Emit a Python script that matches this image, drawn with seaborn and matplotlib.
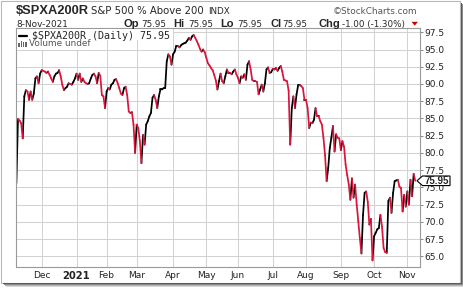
import numpy as np
import pandas as pd
import matplotlib
matplotlib.use("Agg")
import matplotlib.pyplot as plt
import matplotlib.transforms as mtransforms
from matplotlib.patches import Rectangle, Polygon
from matplotlib.lines import Line2D
import seaborn as sns

# ---------------- data ----------------
values = [
    75.6, 84.9, 84.7, 84.3, 82.1, 88.2, 89.1, 88.9, 87.7, 88.9,
    87.7, 88.6, 90.8, 91.1, 90.1, 91.5, 92.0, 91.9, 91.8, 91.6,
    91.8, 91.3, 90.8, 90.3, 91.1, 91.5, 91.6, 92.0, 91.1, 89.9,
    89.1, 89.4, 89.6, 90.1, 90.0, 89.9, 90.3, 90.8, 91.5, 90.6,
    91.5, 90.3, 90.8, 90.3, 90.1, 90.0, 90.1, 90.8, 91.3, 91.5,
    91.1, 90.1, 91.6, 91.2, 88.4, 88.2, 86.5, 88.9, 89.4, 89.2,
    89.9, 90.1, 90.6, 90.7, 90.1, 89.4, 88.6, 88.4, 89.4, 89.6,
    88.4, 86.0, 85.8, 85.9, 84.1, 80.0, 84.1, 83.6, 81.7, 78.5,
    82.6, 81.2, 84.1, 84.6, 85.3, 85.8, 88.0, 88.4, 87.7, 86.5,
    88.2, 89.2, 89.2, 89.4, 89.4, 93.3, 94.3, 94.0, 92.8, 94.3,
    94.7, 95.5, 95.5, 95.3, 95.6, 95.8, 95.9, 96.0, 96.3, 96.7,
    96.4, 96.9, 97.1, 96.7, 96.2, 95.7, 95.1, 94.7, 95.0, 94.6,
    93.8, 93.0, 92.7, 92.3, 92.0, 91.3, 90.5, 89.2, 90.4, 91.5,
    90.4, 90.1, 91.1, 92.1, 91.6, 91.6, 91.4, 91.8, 92.1, 91.4,
    90.9, 90.1, 91.1, 90.9, 91.4, 90.6, 92.8, 93.3, 92.1, 90.6,
    90.4, 90.4, 90.3, 88.5, 89.2, 89.9, 88.9, 90.1, 92.1, 92.4,
    91.6, 91.7, 92.2, 92.1, 92.3, 91.9, 92.3, 92.6, 91.8, 90.6,
    90.5, 90.4, 89.0, 81.2, 86.5, 88.2, 86.5, 88.5, 89.8, 89.8,
    89.7, 89.4, 87.7, 87.7, 86.5, 83.6, 84.4, 84.3, 84.8, 86.5,
    85.3, 85.3, 84.6, 84.1, 82.2, 79.7, 75.9, 77.8, 80.7, 82.2,
    83.9, 80.2, 82.7, 82.2, 82.1, 80.4, 81.7, 80.9, 78.3, 76.8,
    75.4, 73.2, 76.3, 73.5, 75.4, 72.5, 70.1, 67.6, 65.4, 71.0,
    74.2, 74.4, 72.9, 69.6, 70.4, 64.4, 67.9, 68.4, 68.9, 69.1,
    71.0, 69.3, 66.2, 65.6, 65.5, 73.0, 73.5, 71.3, 74.2, 75.9,
    76.0, 76.1, 75.1, 74.9, 71.5, 73.9, 72.2, 74.4, 72.5, 76.1,
    73.7, 76.95, 75.95,
]
start_date = "2020-11-06"
end_date = "2021-11-08"
holidays = ["2020-11-26", "2020-12-25", "2021-01-01", "2021-01-18",
            "2021-02-15", "2021-04-02", "2021-05-31", "2021-07-05",
            "2021-09-06"]
month_labels = ["Dec", "2021", "Feb", "Mar", "Apr", "May", "Jun", "Jul",
                "Aug", "Sep", "Oct", "Nov"]
y_ticks = [65.0, 67.5, 70.0, 72.5, 75.0, 77.5, 80.0, 82.5, 85.0, 87.5,
           90.0, 92.5, 95.0, 97.5]
symbol = "$SPXA200R"
name = "S&P 500 % Above 200"
exchange = "INDX"
date_text = "8-Nov-2021"
last_value = 75.95
change = -1.00
change_pct = -1.30

# ---------------- prep ----------------
dates = pd.bdate_range(start_date, end_date, freq="C", holidays=holidays)
n = len(values)
dates = dates[:n]
idx = np.arange(n)
tick_pos = [i for i in range(1, len(dates)) if dates[i].month != dates[i - 1].month]

rows = []
for k in range(1, n):
    d = "up" if values[k] >= values[k - 1] else "down"
    rows.append((k, idx[k - 1], values[k - 1], d))
    rows.append((k, idx[k], values[k], d))
seg = pd.DataFrame(rows, columns=["seg", "x", "y", "dir"])

sns.set_style("white")
plt.rcParams["font.family"] = ["DejaVu Sans"]

W, H = 464, 288
fig = plt.figure(figsize=(W / 100, H / 100), dpi=100)
fig.patch.set_facecolor("white")
ax = fig.add_axes([16 / W, 1 - 267 / H, (420 - 16) / W, (267 - 28) / H])
ax.set_facecolor("white")

sns.lineplot(data=seg, x="x", y="y", hue="dir", units="seg", estimator=None,
             palette={"up": "#000000", "down": "#dc143c"}, legend=False,
             sort=False, linewidth=1.25, ax=ax)

ax.set_xlim(-0.25, 255.0)
ax.set_ylim(63.44, 98.12)
ax.set_xlabel("")
ax.set_ylabel("")
ax.set_xticks(tick_pos[:len(month_labels)])
ax.set_xticklabels(month_labels)
ax.set_yticks(y_ticks)
ax.set_yticklabels([f"{v:.1f}" for v in y_ticks])
ax.yaxis.tick_right()
ax.tick_params(axis="x", length=0, pad=3.2, labelsize=6.5, labelcolor="#222222")
ax.tick_params(axis="y", right=True, left=False, length=2.2, width=0.7, pad=0.6,
               labelsize=6.5, color="#888888", labelcolor="#222222")
for lab in ax.get_xticklabels():
    if lab.get_text() == "2021":
        lab.set_fontweight("bold")
        lab.set_fontsize(7.2)
ax.grid(True, color="#d2d2d2", linewidth=0.75)
ax.set_axisbelow(True)
for sp in ax.spines.values():
    sp.set_color("#9a9a9a")
    sp.set_linewidth(0.8)

# ---------------- decorations in pixel space ----------------
px = mtransforms.Affine2D().scale(1 / W, -1 / H).translate(0, 1) + fig.transFigure
renderer = fig.canvas.get_renderer()


def fit(x, y, s, width, size=8, **kw):
    t = fig.text(x, y, s, transform=px, fontsize=size, parse_math=False, **kw)
    w = t.get_window_extent(renderer).width
    t.set_fontsize(size * width / w)
    return t


# header
fit(16, 14, symbol, 73, family="Liberation Sans", weight="bold")
fit(90.7, 13.7, name, 113)
fit(208, 13.5, exchange, 22)
fit(333, 13.5, "\u00a9StockCharts.com", 85, color="#555555")
fit(16, 26.7, date_text, 52)

val = f"{last_value:.2f}"
probe_b = fig.text(0, 0, "Chg", fontsize=8, family="Liberation Sans", weight="bold")
bsize = 8 * 21.7 / probe_b.get_window_extent(renderer).width
probe_b.remove()
probe_v = fig.text(0, 0, val, fontsize=8)
vsize = 8 * 25 / probe_v.get_window_extent(renderer).width
probe_v.remove()
pieces = [(124, "Op", True), (141.7, val, False), (173, "Hi", True), (188.3, val, False),
          (220, "Lo", True), (237.3, val, False), (270.7, "Cl", True), (282.7, val, False),
          (318.3, "Chg", True), (342.3, f"{change:.2f} ({change_pct:.2f}%)", False)]
for x, s, b in pieces:
    if b:
        fig.text(x, 26.7, s, transform=px, fontsize=bsize, family="Liberation Sans",
                 weight="bold")
    else:
        fig.text(x, 26.7, s, transform=px, fontsize=vsize)
fig.add_artist(Polygon([(411.5, 21.8), (418, 21.8), (414.75, 25.6)], closed=True,
                       transform=px, facecolor="#cc0000", edgecolor="none"))

# legend boxes
fig.add_artist(Rectangle((16.6, 28.6), 156.5, 11.6, transform=px, facecolor="white",
                         edgecolor="none"))
fig.add_artist(Rectangle((16.6, 40.0), 75.5, 10.2, transform=px, facecolor="white",
                         edgecolor="none"))
fig.add_artist(Line2D([19.5, 27], [35.6, 35.6], transform=px, color="black", lw=1.6))
fit(31.7, 38.6, f"{symbol} (Daily) {val}", 140, family="DejaVu Sans Mono")
for bx, bh in [(18.3, 4.0), (20.6, 5.5), (22.9, 4.5), (25.2, 5.0)]:
    fig.add_artist(Rectangle((bx, 46.6 - bh), 1.6, bh, transform=px,
                             facecolor="#666666", edgecolor="none"))
fit(29.5, 46.5, "Volume undef", 62, color="#555555")

# last value marker
ylast = ax.transData.transform((0, last_value))[1]
ypix = H - ylast
fig.add_artist(Polygon([(417, ypix), (422.5, ypix - 4.8), (450, ypix - 4.8),
                        (450, ypix + 4.8), (422.5, ypix + 4.8)], closed=True,
                       transform=px, facecolor="white", edgecolor="black", lw=0.8))
fit(436.5, ypix + 3.5, val, 24.6, family="Liberation Sans", weight="bold", ha="center")

# frame and shadow
fig.add_artist(Rectangle((0.5, 0.5), 460, 282, transform=px, facecolor="none",
                         edgecolor="#b8b8b8", lw=0.8))
for i, c in enumerate(["#5a5a5a", "#8a8a8a", "#b5b5b5", "#dadada"]):
    fig.add_artist(Rectangle((461 + i, 3 + i), 1, 281 - i, transform=px,
                             facecolor=c, edgecolor="none"))
    fig.add_artist(Rectangle((3 + i, 283 + i), 459, 1, transform=px,
                             facecolor=c, edgecolor="none"))

fig.savefig("out.png", dpi=100, facecolor="white")
